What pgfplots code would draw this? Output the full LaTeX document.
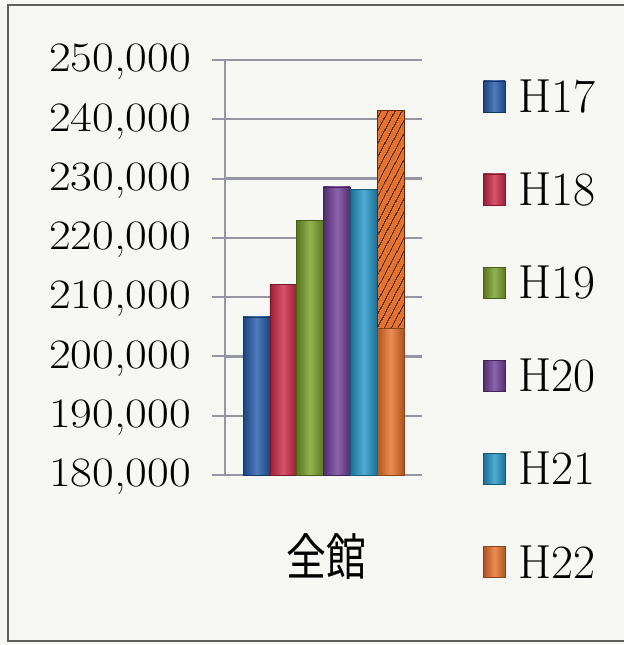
\documentclass[border=0pt]{standalone}
\usepackage{pgfplots}
\pgfplotsset{compat=1.18}
\usepackage{fontspec}
\newfontfamily\cjk{Noto Sans CJK JP}
\usetikzlibrary{patterns.meta}
\definecolor{paper}{RGB}{247,247,243}
\definecolor{gridc}{RGB}{150,150,162}
\definecolor{cA}{RGB}{35,90,170}
\definecolor{cB}{RGB}{205,40,70}
\definecolor{cC}{RGB}{120,160,40}
\definecolor{cD}{RGB}{110,60,150}
\definecolor{cE}{RGB}{35,150,200}
\definecolor{cF}{RGB}{232,112,40}
\definecolor{hatch}{RGB}{95,40,15}
\begin{document}
\begin{tikzpicture}
\path[use as bounding box, fill=paper] (-225bp,-170bp) rectangle (399bp,475bp);
\begin{axis}[
  at={(0,0)}, anchor=south west,
  scale only axis, width=197bp, height=415bp,
  xmin=-0.5, xmax=0.5, ymin=180000, ymax=250000,
  ytick={180000,190000,...,250000},
  scaled y ticks=false,
  xtick={0}, xticklabels={{\cjk\fontsize{50}{50}\selectfont\scalebox{0.8}[1]{全館}}},
  extra x ticks={-0.5,0.5}, extra x tick labels={},
  extra x tick style={major tick length=16bp, tick style={draw=gridc, line width=1.8bp}},
  axis lines=left, axis line style={-, draw=gridc, line width=2bp},
  ymajorgrids, grid style={draw=gridc, line width=2.2bp},
  tick style={draw=gridc, line width=2bp},
  major tick length=13bp, tick align=outside,
  x tick style={draw=none},
  yticklabel style={font=\fontsize{42}{42}\selectfont, xscale=1.13, xshift=-15bp, yshift=-2bp,
    /pgf/number format/.cd, fixed, 1000 sep={,}, assume math mode=true},
  xticklabel style={yshift=-42bp, xshift=3bp},
  legend style={draw=none, fill=none, at={(1.31,0.958)}, anchor=north west,
    font=\fontsize{48}{48}\selectfont, row sep=55bp, inner sep=0pt,
    nodes={inner sep=2bp}},
  legend cell align=left,
  legend image code/.code={\path[#1] (0bp,-15bp) rectangle (22bp,16bp); \path (33bp,0bp);},
  clip=false,
]
\addplot[ybar, bar width=26.8bp, bar shift=-67bp, draw=cA!60!black, shading=axis, shading angle=90, left color=cA!75!black, right color=cA!75!black, middle color=cA!80!white] coordinates {(0,206700)};
\addlegendentry{H17}
\addplot[ybar, bar width=26.8bp, bar shift=-40.2bp, draw=cB!60!black, shading=axis, shading angle=90, left color=cB!75!black, right color=cB!75!black, middle color=cB!80!white] coordinates {(0,212200)};
\addlegendentry{H18}
\addplot[ybar, bar width=26.8bp, bar shift=-13.4bp, draw=cC!60!black, shading=axis, shading angle=90, left color=cC!75!black, right color=cC!75!black, middle color=cC!80!white] coordinates {(0,223000)};
\addlegendentry{H19}
\addplot[ybar, bar width=26.8bp, bar shift=13.4bp, draw=cD!60!black, shading=axis, shading angle=90, left color=cD!75!black, right color=cD!75!black, middle color=cD!80!white] coordinates {(0,228600)};
\addlegendentry{H20}
\addplot[ybar, bar width=26.8bp, bar shift=40.2bp, draw=cE!60!black, shading=axis, shading angle=90, left color=cE!75!black, right color=cE!75!black, middle color=cE!80!white] coordinates {(0,228200)};
\addlegendentry{H21}
\addplot[ybar, bar width=26.8bp, bar shift=67bp, draw=hatch, fill=cF, postaction={pattern={Lines[angle=62, distance=6bp, line width=1.8bp]}, pattern color=hatch}, forget plot] coordinates {(0,241550)};
\addplot[ybar, bar width=26.8bp, bar shift=67bp, draw=cF!60!black, shading=axis, shading angle=90, left color=cF!75!black, right color=cF!75!black, middle color=cF!80!white] coordinates {(0,204700)};
\addlegendentry{H22}
\end{axis}
\draw[draw={rgb,255:red,95;green,95;blue,95}, line width=2.2bp] (399bp,470bp) -- (-217bp,470bp) -- (-217bp,-166bp) -- (399bp,-166bp);
\end{tikzpicture}
\end{document}
